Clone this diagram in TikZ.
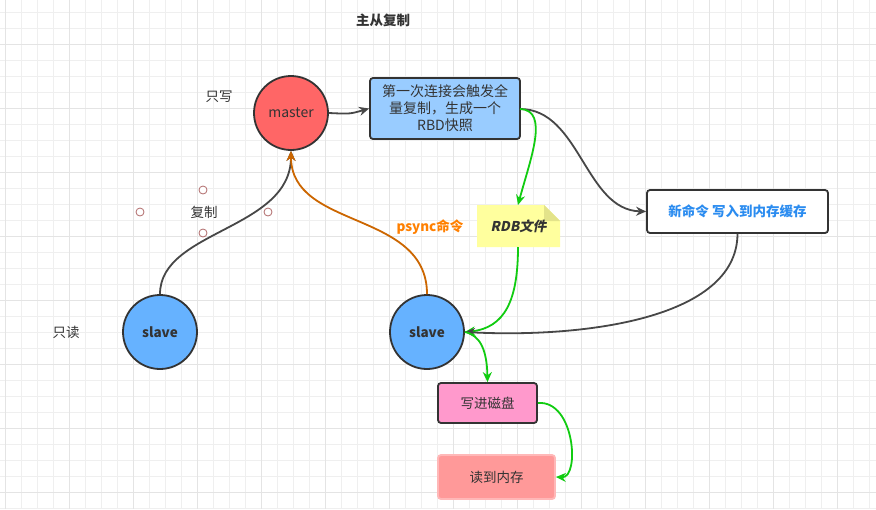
\documentclass[tikz,border=0pt]{standalone}
\usepackage{fontspec}
\setmainfont{Noto Sans CJK SC}
\newfontfamily\slfont{Noto Sans CJK SC}[FakeSlant=0.2]
\usetikzlibrary{arrows.meta}
\definecolor{ink}{HTML}{333333}
\definecolor{gridc}{HTML}{EFEFEF}
\definecolor{gridm}{HTML}{E4E4E4}
\definecolor{masterfill}{HTML}{FF6666}
\definecolor{bluebox}{HTML}{99CCFF}
\definecolor{slavefill}{HTML}{66B2FF}
\definecolor{pinkbox}{HTML}{FF99CC}
\definecolor{redbox}{HTML}{FF9999}
\definecolor{redborder}{HTML}{FFB8B8}
\definecolor{notefill}{HTML}{FFFF9E}
\definecolor{notefold}{HTML}{E3E38A}
\definecolor{bluetext}{HTML}{2B8CF0}
\definecolor{orangetext}{HTML}{FF8000}
\definecolor{orangeline}{HTML}{CC6600}
\definecolor{greenline}{HTML}{11CC11}
\definecolor{handle}{HTML}{B06A6A}
\tikzset{
  txt/.style={font=\fontsize{13.5}{17}\selectfont, text=ink},
  circ/.style={circle, draw=ink, line width=1.8pt, minimum size=74pt, inner sep=0pt, font=\fontsize{14}{17}\selectfont, text=ink},
  rbox/.style={rectangle, rounded corners=3pt, draw=ink, line width=1.8pt, inner sep=0pt, font=\fontsize{13.5}{17}\selectfont, text=ink, align=center},
  conn/.style={line width=1.8pt, draw=ink!90, -{Stealth[length=10pt,width=9pt]}},
  gconn/.style={conn, draw=greenline, -{Stealth[length=10pt,width=9pt,fill=greenline]}},
  oconn/.style={conn, draw=orangeline},
  hnd/.style={circle, draw=handle, fill=white, line width=0.8pt, minimum size=8pt, inner sep=0pt},
}
\begin{document}
\begin{tikzpicture}[x=1pt,y=-1pt]
\fill[white] (0,0) rectangle (876,509);
\useasboundingbox (0,0) rectangle (876,509);
% grid
\foreach \x in {5,21,...,876} \draw[gridc, line width=0.8pt] (\x,0) -- (\x,509);
\foreach \y in {12,28,...,509} \draw[gridc, line width=0.8pt] (0,\y) -- (876,\y);
\foreach \x in {5,69,...,876} \draw[gridm, line width=0.9pt] (\x,0) -- (\x,509);
\foreach \y in {44,108,...,509} \draw[gridm, line width=0.9pt] (0,\y) -- (876,\y);

% labels
\node[txt, font=\fontsize{13.5}{17}\selectfont\bfseries] (title) at (383,20) {主从复制};
\node[txt] (wonly) at (219,97) {只写};
\node[txt] (ronly) at (66,332) {只读};

% nodes
\node[circ, fill=masterfill] (master) at (291,113) {master};
\node[rbox, fill=bluebox, minimum width=150pt, minimum height=61pt, font=\fontsize{14}{17}\selectfont] (full) at (445,108.5)
  {第一次连接会触发全\\量复制，生成一个\\RBD快照};
\node[rbox, fill=white, minimum width=181pt, minimum height=43pt, text=bluetext, font=\fontsize{13.5}{17}\selectfont\bfseries] (newcmd) at (737.5,211.5)
  {新命令 写入到内存缓存};
\node[circ, fill=slavefill, font=\fontsize{13.5}{17}\selectfont\bfseries] (slave1) at (160,332) {slave};
\node[circ, fill=slavefill, font=\fontsize{13.5}{17}\selectfont\bfseries] (slave2) at (427,332) {slave};
\node[rbox, fill=pinkbox, minimum width=99pt, minimum height=40pt] (disk) at (487.5,403) {写进磁盘};
\node[rbox, fill=redbox, draw=redborder, minimum width=117pt, minimum height=44pt] (mem) at (496.5,477) {读到内存};

% note
\fill[notefill] (477,205) -- (544,205) -- (560,221) -- (560,247) -- (477,247) -- cycle;
\fill[notefold] (544,205) -- (544,221) -- (560,221) -- cycle;
\node[txt, font=\fontsize{13.5}{17}\selectfont\slfont\bfseries] (rdb) at (518.5,226) {RDB文件};
\coordinate (rdbtop) at (518,205);
\coordinate (rdbbot) at (518,247);

\node[txt, text=orangetext, font=\fontsize{13.5}{17}\selectfont\bfseries] (psync) at (430,227) {psync命令};

% connectors
\draw[conn] (master.east) .. controls (350,114) .. (full.west);
\coordinate (fullout) at (520,109);
\draw[conn] (fullout) .. controls (580,109) and (585,210) .. (newcmd.west);
\draw[gconn] (fullout) .. controls (550,110) and (530,160) .. (rdbtop);
\draw[gconn] (rdbbot) .. controls (518,300) and (505,328) .. (slave2.east);
\draw[conn] (newcmd.south) .. controls (737,320) and (580,338) .. (slave2.east);
\draw[conn] (slave1.north) .. controls (160,230) and (291,230) .. (master.south);
\draw[oconn] (slave2.north) .. controls (427,210) and (291,230) .. (master.south);
\draw[gconn] (slave2.east) .. controls (480,335) and (487,350) .. (disk.north);
\draw[gconn] (disk.east) .. controls (575,400) and (580,478) .. (mem.east);

% label on selected edge with handles
\node[txt] (copy) at (204,212) {复制};
\node[hnd] (h1) at (203,190) {};
\node[hnd] (h2) at (140,212) {};
\node[hnd] (h3) at (268,212) {};
\node[hnd] (h4) at (203,233) {};
\end{tikzpicture}
\end{document}
